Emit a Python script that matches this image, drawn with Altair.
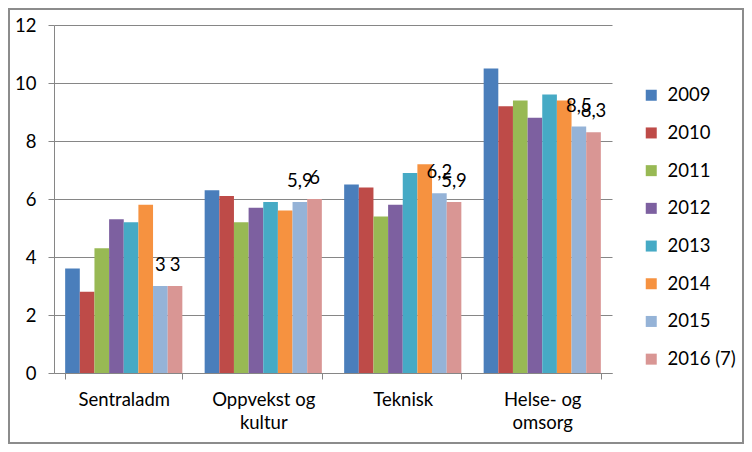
import altair as alt
import pandas as pd

categories = ["Sentraladm", "Oppvekst og kultur", "Teknisk", "Helse- og omsorg"]
years = ["2009", "2010", "2011", "2012", "2013", "2014", "2015", "2016 (7)"]
colors = ["#4A7EBB", "#BE4B48", "#98B954", "#7D60A0", "#46AAC5", "#F69240", "#95B3D7", "#D99694"]

v_sentraladm = [3.6, 2.8, 4.3, 5.3, 5.2, 5.8, 3.0, 3.0]
v_oppvekst = [6.3, 6.1, 5.2, 5.7, 5.9, 5.6, 5.9, 6.0]
v_teknisk = [6.5, 6.4, 5.4, 5.8, 6.9, 7.2, 6.2, 5.9]
v_helse = [10.5, 9.2, 9.4, 8.8, 9.6, 9.4, 8.5, 8.3]
labelled_years = ["2015", "2016 (7)"]

series = [v_sentraladm, v_oppvekst, v_teknisk, v_helse]
rows = []
for cat, vals in zip(categories, series):
    for yr, v in zip(years, vals):
        rows.append({"kategori": cat, "aar": yr, "verdi": v})
df = pd.DataFrame(rows)

W, H = 558, 348
FONT = "Lato"
FS = 18.5
GRAY = "#868686"

x_enc = alt.X(
    "kategori:N",
    sort=categories,
    scale=alt.Scale(paddingInner=0.16, paddingOuter=0.08),
    axis=alt.Axis(
        title=None,
        labelAngle=0,
        tickBand="extent",
        tickSize=6,
        tickColor=GRAY,
        domainColor=GRAY,
        labelFontSize=FS,
        labelColor="#000000",
        labelPadding=11,
        labelLineHeight=23,
        labelBaseline="top",
        labelExpr="indexof(datum.label, ' og ') >= 0 ? [slice(datum.label, 0, indexof(datum.label, ' og ') + 3), slice(datum.label, indexof(datum.label, ' og ') + 4)] : datum.label",
    ),
)
xoff_enc = alt.XOffset("aar:N", sort=years, scale=alt.Scale(paddingInner=0, paddingOuter=0))
y_enc = alt.Y(
    "verdi:Q",
    scale=alt.Scale(domain=[0, 12], nice=False),
    axis=alt.Axis(
        title=None,
        values=[0, 2, 4, 6, 8, 10, 12],
        grid=True,
        gridColor=GRAY,
        domainColor=GRAY,
        tickColor=GRAY,
        tickSize=6,
        labelFontSize=FS,
        labelColor="#000000",
        labelPadding=12,
    ),
)

bars = alt.Chart(df).mark_bar().encode(
    x=x_enc,
    xOffset=xoff_enc,
    y=y_enc,
    color=alt.Color(
        "aar:N",
        sort=years,
        scale=alt.Scale(domain=years, range=colors),
        legend=alt.Legend(
            title=None,
            orient="none",
            legendX=588,
            legendY=61,
            symbolType="square",
            symbolSize=121,
            symbolStrokeWidth=0,
            labelFontSize=FS,
            labelColor="#000000",
            labelOffset=7,
            rowPadding=18.7,
            padding=0,
        ),
    ),
)

text = alt.Chart(df).transform_filter(
    alt.FieldOneOfPredicate(field="aar", oneOf=labelled_years)
).transform_calculate(
    lab="replace(format(datum.verdi, '.1~f'), '.', ',')"
).mark_text(baseline="middle", align="center", dy=-21, fontSize=FS, color="#000000").encode(
    x=alt.X("kategori:N", sort=categories),
    xOffset=alt.XOffset("aar:N", sort=years),
    y="verdi:Q",
    text="lab:N",
)

border = alt.Chart(pd.DataFrame({"a": [0]})).mark_rect(
    filled=False, stroke="#8c8c8c", strokeWidth=2
).encode(
    x=alt.value(-45), x2=alt.value(W + 131), y=alt.value(-16), y2=alt.value(H + 70)
)

chart = alt.layer(bars, text, border).properties(
    width=W,
    height=H,
    autosize=alt.AutoSizeParams(type="none"),
    padding={"left": 46, "top": 17, "right": 132, "bottom": 71},
).configure(font=FONT).configure_view(stroke=None)

chart.save("out.html", embed_options={"renderer": "svg", "actions": False})
